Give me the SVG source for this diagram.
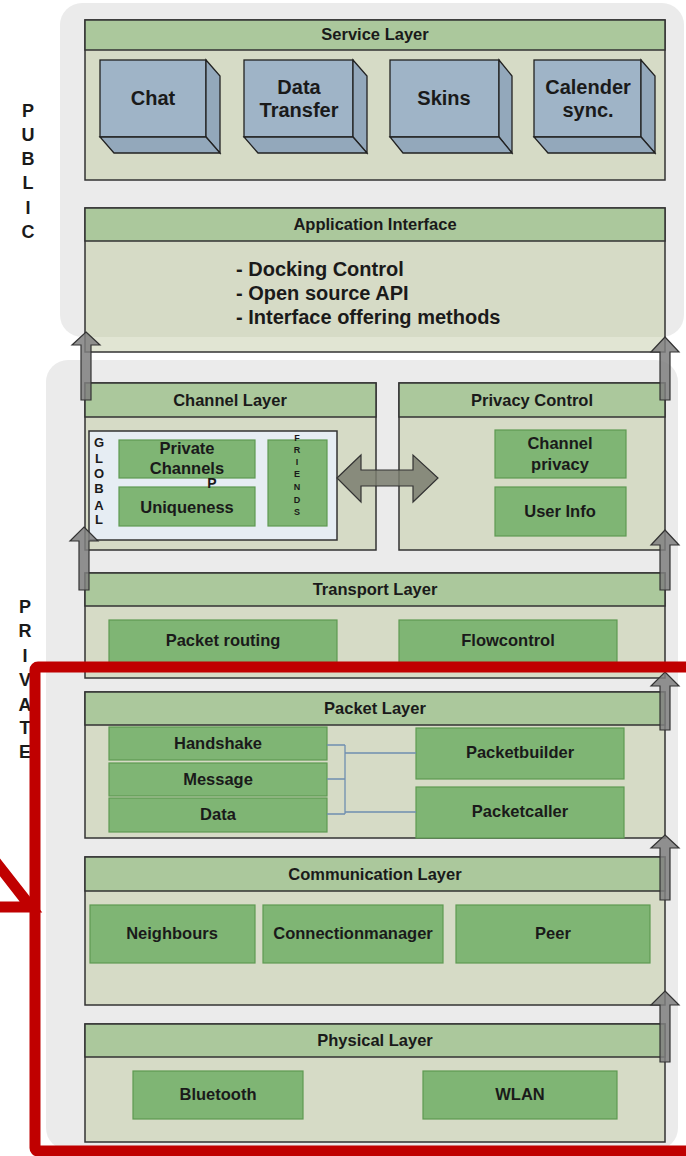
<svg xmlns="http://www.w3.org/2000/svg" width="686" height="1156" viewBox="0 0 686 1156">
<style>
.zone{fill:#ebebeb;}
.body{fill:#d6dbc6;stroke:#333;stroke-width:1.5;}
.hdr{fill:#abc89c;stroke:#333;stroke-width:1.5;}
.box{fill:#7fb574;stroke:#5e9a52;stroke-width:1.2;}
.cf{fill:#9fb4c7;stroke:#222;stroke-width:1.3;}
.cs{fill:#93a8bb;stroke:#222;stroke-width:1.3;}
.t{font-family:"Liberation Sans",Arial,sans-serif;font-weight:bold;fill:#1a1a1a;text-anchor:middle;}
.h{font-size:16.5px;}
.c{font-size:20px;}
.arr{fill:#7f7f7f;fill-opacity:0.85;stroke:#333;stroke-width:1.2;}
.lnk{fill:none;stroke:#6f8fb0;stroke-width:1.3;}
.red{fill:none;stroke:#c00000;stroke-width:11;}
</style>
<rect width="686" height="1156" fill="#fff"/>
<g id="zones">
<rect class="zone" x="60" y="3" width="624" height="334" rx="22"/>
<rect class="zone" x="46" y="360" width="632" height="790" rx="22"/>
</g>
<g id="side-labels">
<text class="t" style="font-size:18px" x="28" y="117">P</text>
<text class="t" style="font-size:18px" x="28" y="141">U</text>
<text class="t" style="font-size:18px" x="28" y="165">B</text>
<text class="t" style="font-size:18px" x="28" y="189">L</text>
<text class="t" style="font-size:18px" x="28" y="214">I</text>
<text class="t" style="font-size:18px" x="28" y="238">C</text>
<text class="t" style="font-size:18px" x="25" y="613">P</text>
<text class="t" style="font-size:18px" x="25" y="637">R</text>
<text class="t" style="font-size:18px" x="25" y="662">I</text>
<text class="t" style="font-size:18px" x="25" y="686">V</text>
<text class="t" style="font-size:18px" x="25" y="711">A</text>
<text class="t" style="font-size:18px" x="25" y="734">T</text>
<text class="t" style="font-size:18px" x="25" y="758">E</text>
</g>
<g id="service-layer">
<rect class="body" x="85" y="20" width="580" height="160"/>
<rect class="hdr" x="85" y="20" width="580" height="30"/>
<text class="t h" x="375" y="40">Service Layer</text>
<g id="chat">
<rect class="cf" x="100" y="60" width="106" height="77"/>
<polygon class="cs" points="206,60 220,76 220,153 206,137"/>
<polygon class="cs" points="100,137 206,137 220,153 114,153"/>
<text class="t c" x="153" y="105">Chat</text>
</g>
<g id="data-transfer">
<rect class="cf" x="244" y="60" width="109" height="77"/>
<polygon class="cs" points="353,60 367,76 367,153 353,137"/>
<polygon class="cs" points="244,137 353,137 367,153 258,153"/>
<text class="t c" x="299" y="94">Data</text>
<text class="t c" x="299" y="117">Transfer</text>
</g>
<g id="skins">
<rect class="cf" x="390" y="60" width="109" height="77"/>
<polygon class="cs" points="499,60 512,76 512,153 499,137"/>
<polygon class="cs" points="390,137 499,137 512,153 403,153"/>
<text class="t c" x="444" y="105">Skins</text>
</g>
<g id="calender-sync">
<rect class="cf" x="534" y="60" width="107" height="77"/>
<polygon class="cs" points="641,60 655,76 655,153 641,137"/>
<polygon class="cs" points="534,137 641,137 655,153 548,153"/>
<text class="t c" x="588" y="94">Calender</text>
<text class="t c" x="588" y="117">sync.</text>
</g>
</g>
<g id="application-interface">
<rect x="85" y="208" width="580" height="144" fill="#d6dbc6"/>
<rect x="85" y="337" width="580" height="15" fill="#e1e5d3"/>
<rect x="85" y="208" width="580" height="144" fill="none" stroke="#333" stroke-width="1.5"/>
<rect class="hdr" x="85" y="208" width="580" height="33"/>
<text class="t h" x="375" y="230">Application Interface</text>
<text class="t c" x="236" y="276" style="text-anchor:start">- Docking Control</text>
<text class="t c" x="236" y="300" style="text-anchor:start">- Open source API</text>
<text class="t c" x="236" y="324" style="text-anchor:start">- Interface offering methods</text>
</g>
<g id="channel-layer">
<rect class="body" x="85" y="383" width="291" height="167"/>
<rect class="hdr" x="85" y="383" width="291" height="34"/>
<text class="t h" x="230" y="406">Channel Layer</text>
<rect x="89" y="431" width="248" height="109" fill="#e6edf3" stroke="#333" stroke-width="1.5"/>
<g id="private-channels">
<rect class="box" x="119" y="440" width="136" height="38"/>
<text class="t h" x="187" y="454">Private</text>
<text class="t h" x="187" y="474">Channels</text>
</g>
<g id="uniqueness">
<rect class="box" x="119" y="487" width="136" height="39"/>
<text class="t h" x="187" y="513">Uniqueness</text>
</g>
<text class="t" style="font-size:14px" x="212" y="488">P</text>
<g id="friends">
<rect class="box" x="268" y="440" width="59" height="86"/>
<text class="t" style="font-size:9px" x="297" y="441">F</text>
<text class="t" style="font-size:9px" x="297" y="453">R</text>
<text class="t" style="font-size:9px" x="297" y="465">I</text>
<text class="t" style="font-size:9px" x="297" y="477">E</text>
<text class="t" style="font-size:9px" x="297" y="490">N</text>
<text class="t" style="font-size:9px" x="297" y="503">D</text>
<text class="t" style="font-size:9px" x="297" y="515">S</text>
</g>
<g id="global">
<text class="t" style="font-size:13px" x="99" y="447">G</text>
<text class="t" style="font-size:13px" x="99" y="463">L</text>
<text class="t" style="font-size:13px" x="99" y="478">O</text>
<text class="t" style="font-size:13px" x="99" y="493">B</text>
<text class="t" style="font-size:13px" x="99" y="510">A</text>
<text class="t" style="font-size:13px" x="99" y="524">L</text>
</g>
</g>
<g id="privacy-control">
<rect class="body" x="399" y="383" width="266" height="167"/>
<rect class="hdr" x="399" y="383" width="266" height="34"/>
<text class="t h" x="532" y="406">Privacy Control</text>
<g id="channel-privacy">
<rect class="box" x="495" y="430" width="131" height="48"/>
<text class="t h" x="560" y="449">Channel</text>
<text class="t h" x="560" y="470">privacy</text>
</g>
<g id="user-info">
<rect class="box" x="495" y="487" width="131" height="49"/>
<text class="t h" x="560" y="517">User Info</text>
</g>
</g>
<g id="transport-layer">
<rect class="body" x="85" y="573" width="580" height="105"/>
<rect class="hdr" x="85" y="573" width="580" height="33"/>
<text class="t h" x="375" y="595">Transport Layer</text>
<g id="packet-routing">
<rect class="box" x="109" y="620" width="228" height="48"/>
<text class="t h" x="223" y="646">Packet routing</text>
</g>
<g id="flowcontrol">
<rect class="box" x="399" y="620" width="218" height="48"/>
<text class="t h" x="508" y="646">Flowcontrol</text>
</g>
</g>
<g id="packet-layer">
<rect class="body" x="85" y="692" width="580" height="146"/>
<rect class="hdr" x="85" y="692" width="580" height="33"/>
<text class="t h" x="375" y="714">Packet Layer</text>
<g id="handshake">
<rect class="box" x="109" y="727" width="218" height="33"/>
<text class="t h" x="218" y="749">Handshake</text>
</g>
<g id="message">
<rect class="box" x="109" y="763" width="218" height="33"/>
<text class="t h" x="218" y="785">Message</text>
</g>
<g id="data">
<rect class="box" x="109" y="798" width="218" height="34"/>
<text class="t h" x="218" y="820">Data</text>
</g>
<g id="packetbuilder">
<rect class="box" x="416" y="728" width="208" height="51"/>
<text class="t h" x="520" y="758">Packetbuilder</text>
</g>
<g id="packetcaller">
<rect class="box" x="416" y="787" width="208" height="51"/>
<text class="t h" x="520" y="817">Packetcaller</text>
</g>
</g>
<g id="communication-layer">
<rect class="body" x="85" y="857" width="580" height="148"/>
<rect class="hdr" x="85" y="857" width="580" height="34"/>
<text class="t h" x="375" y="880">Communication Layer</text>
<g id="neighbours">
<rect class="box" x="90" y="905" width="165" height="58"/>
<text class="t h" x="172" y="939">Neighbours</text>
</g>
<g id="connectionmanager">
<rect class="box" x="263" y="905" width="180" height="58"/>
<text class="t h" x="353" y="939">Connectionmanager</text>
</g>
<g id="peer">
<rect class="box" x="456" y="905" width="194" height="58"/>
<text class="t h" x="553" y="939">Peer</text>
</g>
</g>
<g id="physical-layer">
<rect class="body" x="85" y="1024" width="580" height="118"/>
<rect class="hdr" x="85" y="1024" width="580" height="33"/>
<text class="t h" x="375" y="1046">Physical Layer</text>
<g id="bluetooth">
<rect class="box" x="133" y="1071" width="170" height="48"/>
<text class="t h" x="218" y="1100">Bluetooth</text>
</g>
<g id="wlan">
<rect class="box" x="423" y="1071" width="194" height="48"/>
<text class="t h" x="520" y="1100">WLAN</text>
</g>
</g>
<g id="connectors">
<path class="lnk" d="M327,745 H345 M327,779 H345 M327,814 H345 M345,745 V814 M345,753 H416 M345,812 H416"/>
<path class="arr" d="M86,332 L100,345 L91,345 L91,400 L81,400 L81,345 L72,345 Z"/>
<path class="arr" d="M665,337 L679,352 L670,352 L670,400 L660,400 L660,352 L651,352 Z"/>
<path class="arr" d="M84,527 L98,541 L89,541 L89,590 L79,590 L79,541 L70,541 Z"/>
<path class="arr" d="M665,530 L679,545 L670,545 L670,590 L660,590 L660,545 L651,545 Z"/>
<path class="arr" d="M665,672 L679,686 L670,686 L670,730 L660,730 L660,686 L651,686 Z"/>
<path class="arr" d="M665,835 L679,848 L670,848 L670,900 L660,900 L660,848 L651,848 Z"/>
<path class="arr" d="M665,991 L679,1005 L670,1005 L670,1062 L660,1062 L660,1005 L651,1005 Z"/>
<path class="arr" d="M337,478 L361,455 L361,470 L413,470 L413,455 L438,478 L413,502 L413,486 L361,486 L361,502 Z" style="fill:#7a7d6e"/>
</g>
<g id="highlight">
<rect class="red" x="35" y="667" width="665" height="484" rx="3"/>
<polyline class="red" points="-12,852 31,907 -12,907"/>
</g>
</svg>
